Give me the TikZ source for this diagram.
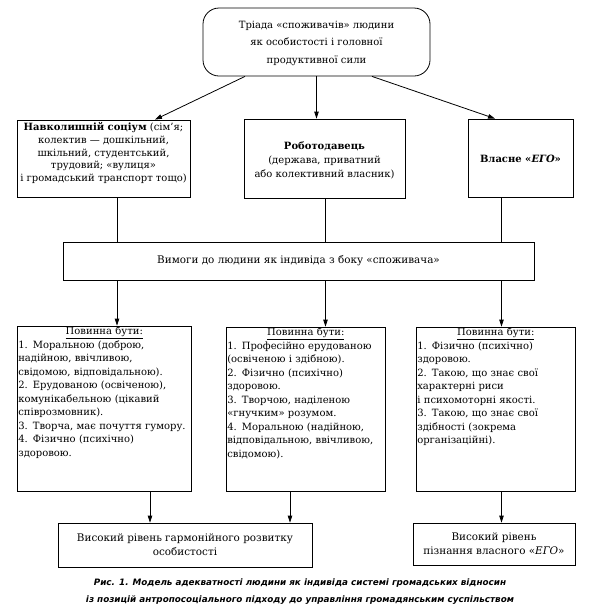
\documentclass[tikz,border=0pt]{standalone}
\usepackage{fontspec}
\setmainfont{DejaVu Serif}
\newfontfamily\capfont{DejaVu Sans}
\usetikzlibrary{arrows.meta,calc}
\begin{document}
\begin{tikzpicture}[x=1pt,y=-1pt,
  box/.style={draw, line width=0.8pt, inner sep=0pt},
  txt/.style={font=\fontsize{10}{13}\selectfont, align=center, inner sep=0pt},
  lst/.style={font=\fontsize{10}{13.5}\selectfont, align=left, inner sep=0pt, anchor=north west},
  arr/.style={-{Triangle[length=7pt,width=4.5pt]}, line width=0.8pt},
  ln/.style={line width=0.8pt}]
\useasboundingbox[fill=white] (0,0) rectangle (600,614);

% column coordinates
\coordinate (cA) at (117,0);
\coordinate (cB) at (325.5,0);
\coordinate (cC) at (501.5,0);
\coordinate (cD) at (150,0);
\coordinate (cE) at (290,0);
\coordinate (d1) at (245,0);
\coordinate (d2) at (155,0);
\coordinate (d3) at (372,0);
\coordinate (d4) at (495,0);

% top
\node[box, rounded corners=16pt, minimum width=227pt, minimum height=68pt] (top) at (316.5,42) {};
\node[txt, font=\fontsize{10}{17.5}\selectfont] (topt) at (316.5,43) {Тріада «споживачів» людини\\як особистості і головної\\продуктивної сили};

% level 2
\node[box, minimum width=173pt, minimum height=77pt] (L1) at (103.5,158.5) {};
\node[txt, font=\fontsize{10}{12.7}\selectfont] (L1t) at (103.5,153) {\textbf{Навколишній соціум} (сім’я;\\колектив — дошкільний,\\шкільний, студентський,\\трудовий; «вулиця»\\і громадський транспорт тощо)};

\node[box, minimum width=161pt, minimum height=79pt] (M1) at (324.5,158.5) {};
\node[txt, font=\fontsize{10}{14}\selectfont] (M1t) at (324.5,160) {\textbf{Роботодавець}\\(держава, приватний\\або колективний власник)};

\node[box, minimum width=105pt, minimum height=78pt] (R1) at (520.5,158) {};
\node[txt] (R1t) at (520.5,159) {\textbf{Власне «\textit{ЕГО}»}};

% bar
\node[box, minimum width=471pt, minimum height=38pt] (bar) at (298.5,261) {};
\node[txt, font=\fontsize{10.4}{13}\selectfont] (bart) at (298.5,261) {Вимоги до людини як індивіда з боку «споживача»};

% level 3
\node[box, minimum width=174pt, minimum height=165pt] (L2) at (104,408.5) {};
\node[lst, text width=172pt] (L2t) at ($(L2.north west)+(1.5,1)$) {\hfil\underline{Повинна бути:}\hfil\\
1. Моральною (доброю,\\
надійною, ввічливою,\\
свідомою, відповідальною).\\
2. Ерудованою (освіченою),\\
комунікабельною (цікавий\\
співрозмовник).\\
3. Творча, має почуття гумору.\\
4. Фізично (психічно)\\
здоровою.};

\node[box, minimum width=159pt, minimum height=164pt] (M2) at (305.5,409) {};
\node[lst, text width=157pt] (M2t) at ($(M2.north west)+(1.5,1)$) {\hfil\underline{Повинна бути:}\hfil\\
1. Професійно ерудованою\\
(освіченою і здібною).\\
2. Фізично (психічно)\\
здоровою.\\
3. Творчою, наділеною\\
«гнучким» розумом.\\
4. Моральною (надійною,\\
відповідальною, ввічливою,\\
свідомою).};

\node[box, minimum width=159pt, minimum height=164pt] (R2) at (495.5,409) {};
\node[lst, text width=157pt] (R2t) at ($(R2.north west)+(1.5,1)$) {\hfil\underline{Повинна бути:}\hfil\\
1. Фізично (психічно)\\
здоровою.\\
2. Такою, що знає свої\\
характерні риси\\
і психомоторні якості.\\
3. Такою, що знає свої\\
здібності (зокрема\\
організаційні).};

% results
\node[box, minimum width=254pt, minimum height=44pt] (L3) at (185,545) {};
\node[txt, font=\fontsize{10.4}{14}\selectfont] (L3t) at (185,545) {Високий рівень гармонійного розвитку\\особистості};

\node[box, minimum width=162pt, minimum height=42pt] (R3) at (494,544) {};
\node[txt, font=\fontsize{10.4}{14}\selectfont] (R3t) at (494,544) {Високий рівень\\пізнання власного «\textit{ЕГО}»};

% caption
\node[inner sep=0pt, align=center, font=\capfont\bfseries\itshape\fontsize{8.8}{17}\selectfont] (cap) at (300,591.5)
 {Рис. 1. Модель адекватності людини як індивіда системі громадських відносин\\
  із позицій антропосоціального підходу до управління громадянським суспільством};

% connectors
\draw[arr] (d1 |- top.south) -- (d2 |- L1.north);
\draw[arr] (top.south) -- (top.south |- M1.north);
\draw[arr] (d3 |- top.south) -- (d4 |- R1.north);

\draw[ln] (cA |- L1.south) -- (cA |- bar.north);
\draw[ln] (cB |- M1.south) -- (cB |- bar.north);
\draw[ln] (cC |- R1.south) -- (cC |- bar.north);

\draw[arr] (cA |- bar.south) -- (cA |- L2.north);
\draw[arr] (cB |- bar.south) -- (cB |- M2.north);
\draw[arr] (cC |- bar.south) -- (cC |- R2.north);

\draw[arr] (cD |- L2.south) -- (cD |- L3.north);
\draw[arr] (cE |- M2.south) -- (cE |- L3.north);
\draw[arr] (cC |- R2.south) -- (cC |- R3.north);
\end{tikzpicture}
\end{document}
